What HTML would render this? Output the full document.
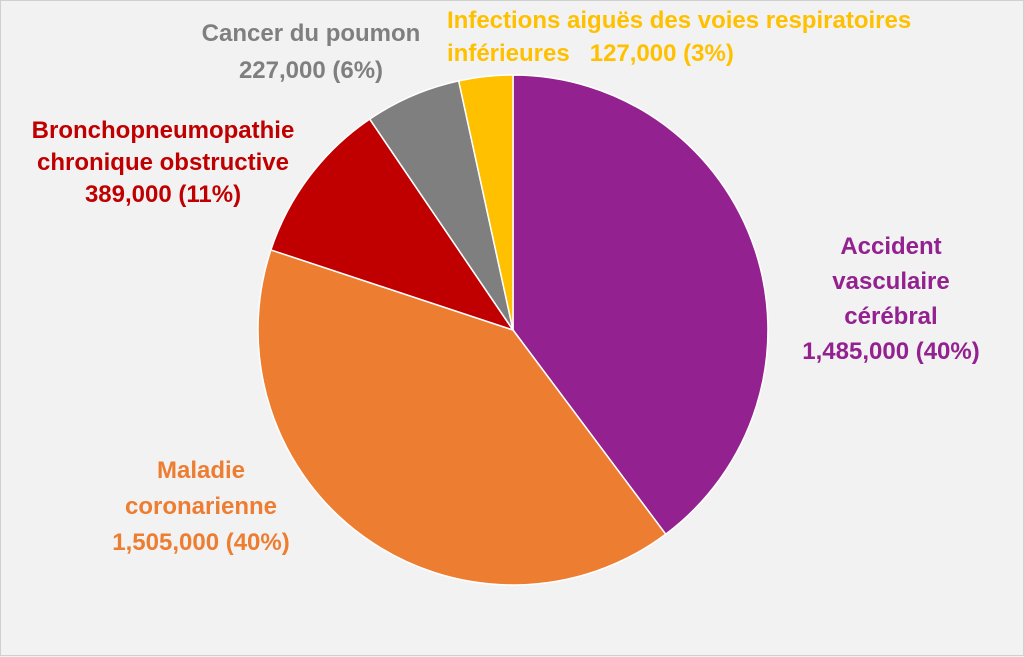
<!DOCTYPE html>
<html><head><meta charset="utf-8"><style>
body{margin:0;width:1024px;height:656px;overflow:hidden;background:#f2f2f2;}
.f{position:absolute;left:0;top:0;width:1022px;height:654px;border:1px solid #d0d0d0;background:#f2f2f2;}
.t{position:absolute;font-family:"Liberation Sans",sans-serif;font-weight:bold;font-size:24px;text-align:center;white-space:nowrap;}
</style></head><body><div class="f">
<svg width="1024" height="656" style="position:absolute;left:0;top:0">
<g stroke="#ffffff" stroke-width="1.5">
<path d="M512,329 L512,74 A255,255 0 0 1 664.7,533.2 Z" fill="#93218f"/>
<path d="M512,329 L664.7,533.2 A255,255 0 0 1 269.9,248.9 Z" fill="#ed7d31"/>
<path d="M512,329 L269.9,248.9 A255,255 0 0 1 368.7,118.1 Z" fill="#c00000"/>
<path d="M512,329 L368.7,118.1 A255,255 0 0 1 457.7,79.9 Z" fill="#7f7f7f"/>
<path d="M512,329 L457.7,79.9 A255,255 0 0 1 512,74 Z" fill="#ffc000"/>
</g></svg>
<div class="t" style="left:160px;top:14px;width:300px;line-height:37px;color:#7f7f7f">Cancer du poumon<br>227,000 (6%)</div>
<div class="t" style="left:446px;top:3px;width:570px;line-height:33px;color:#ffc000;text-align:left">Infections aiguës des voies respiratoires<br>inférieures&nbsp;&nbsp; 127,000 (3%)</div>
<div class="t" style="left:2px;top:114px;width:320px;line-height:32px;color:#c00000">Bronchopneumopathie<br>chronique obstructive<br>389,000 (11%)</div>
<div class="t" style="left:760px;top:228px;width:260px;line-height:35px;color:#93218f">Accident<br>vasculaire<br>cérébral<br>1,485,000 (40%)</div>
<div class="t" style="left:70px;top:452px;width:260px;line-height:36px;color:#ed7d31">Maladie<br>coronarienne<br>1,505,000 (40%)</div>
</div></body></html>
